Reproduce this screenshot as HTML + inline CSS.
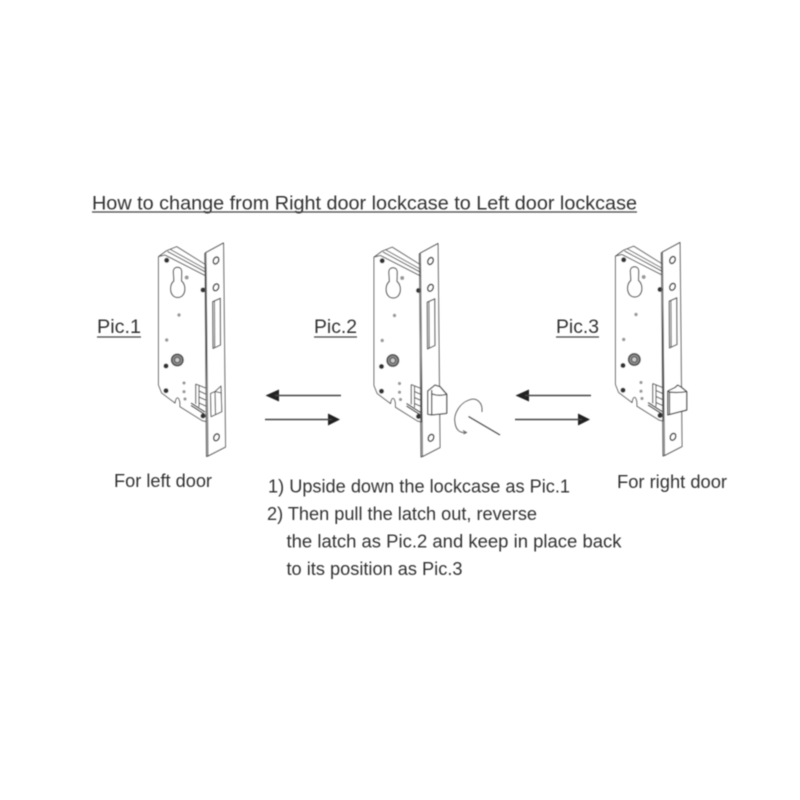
<!DOCTYPE html>
<html>
<head>
<meta charset="utf-8">
<style>
html,body{margin:0;padding:0;background:#fff;}
svg{display:block;}
text{font-family:"Liberation Sans",sans-serif;fill:#333;}
</style>
</head>
<body>
<svg width="800" height="800" viewBox="0 0 800 800" xmlns="http://www.w3.org/2000/svg">
<defs>
<filter id="b" x="-5%" y="-5%" width="110%" height="110%"><feGaussianBlur stdDeviation="0.5"/></filter>
<g id="body" fill="none" stroke="#555" stroke-width="1" stroke-linejoin="round">
  <path fill="#fff" d="M158.5 256.7 L166.7 250.7 L176.7 246.7 L206 265 L206 421.5 L202 420.5 L180 406.7 L180 403 C179 396 176 396 175 403 L161.7 393 L158.5 385 Z"/>
  <path d="M165 255 L205 275.5 M167.5 251.5 L205.5 272 M170.5 249.5 L205.5 269 M158.5 256.7 L165 255"/>
  <path d="M173.3 271 C173.5 266 181.5 266 181.7 271 L181.5 281 C187 285 186 297.5 177.7 297.5 C169.5 297.5 168.5 285 173.8 281 Z" stroke-width="1.2"/>
  <circle cx="177.3" cy="360" r="5.8" fill="#888" stroke="#444" stroke-width="1.4"/>
  <circle cx="177.3" cy="360" r="2.6" fill="#ccc" stroke="#555"/>
  <g fill="#333" stroke="none">
    <circle cx="166.7" cy="260.3" r="2.5"/>
    <circle cx="203" cy="290" r="2.5"/>
    <circle cx="166" cy="366" r="2.5"/>
    <circle cx="166" cy="390.7" r="2.5"/>
    <circle cx="203" cy="416" r="2.5"/>
  </g>
  <g fill="#999" stroke="none">
    <circle cx="179" cy="315" r="1.7"/>
    <circle cx="166.7" cy="340" r="1.7"/>
    <circle cx="186.7" cy="277.5" r="2"/>
    <circle cx="184" cy="383" r="1.6"/>
    <circle cx="184" cy="391.7" r="1.6"/>
    <circle cx="185" cy="399" r="1.6"/>
  </g>
  <path d="M195.7 384 L205.5 388 M195.7 384 L195.7 404 M199 385.5 L199 407 M199 391 L205.5 394 M199 397 L205.5 400 M199 403 L205.5 406" stroke-width="1.1"/>
  <path d="M191 403 L205 412 M191 405.5 L205 414.5" stroke="#333" stroke-width="1.3"/>
</g>
<g id="plate" fill="none" stroke="#555" stroke-width="1" stroke-linejoin="round">
  <path fill="#fff" d="M206 252.5 L223.5 243 L225.5 447 L208 456 Z"/>
  <path d="M206 252.5 L204.8 253.5 L206.5 456.5 L208 456"/>
  <path d="M212.7 301.7 L220.3 298.3 L220.5 345 L213 348.5 Z" stroke-width="1.2"/>
  <path d="M214.5 301 L214.7 347.5"/>
  <g fill="#fff" stroke="#444" stroke-width="1.5">
    <ellipse cx="216" cy="260.5" rx="2.6" ry="3.6" transform="rotate(25 216 260.5)"/>
    <ellipse cx="216" cy="287.3" rx="2.6" ry="3.6" transform="rotate(25 216 287.3)"/>
    <ellipse cx="216.5" cy="437.3" rx="2.6" ry="3.6" transform="rotate(25 216.5 437.3)"/>
  </g>
</g>
</defs>

<g filter="url(#b)">
  <!-- Pic 1 -->
  <use href="#body"/>
  <use href="#plate"/>
  <g fill="#fff" stroke="#555" stroke-width="1.1" stroke-linejoin="round">
    <path d="M210.5 393.5 L215 391.5 L221 386 L221.8 411.7 L211 416.7 Z"/>
    <path d="M215 391.5 L215.5 414.5 M215 391.5 L221.3 393" fill="none"/>
  </g>

  <!-- Pic 2 -->
  <g transform="translate(215.5 0.5)">
    <use href="#body"/>
    <g transform="translate(-1 0)"><use href="#plate"/></g>
  </g>
  <g fill="#fff" stroke="#444" stroke-width="1.2" stroke-linejoin="round">
    <path d="M427.7 391 L435 385 L440 386.7 L446.7 394.3 L446.7 413.3 L431.7 415 L427.7 414.3 Z"/>
    <path d="M431.7 390 L431.7 415 M431.7 393.8 C437 396 442 395.5 446.7 394.3" fill="none"/>
  </g>

  <!-- rotate indicator -->
  <path d="M482 412 C483 402 476 397 469 400 C460 403 453 414 455 423 C456 430 460 433 465 432.5" fill="none" stroke="#555" stroke-width="0.9"/>
  <path d="M463 430.5 L466.5 432.5 L463.5 434" fill="none" stroke="#555" stroke-width="0.9"/>
  <path d="M468.5 416.5 L500 435" fill="none" stroke="#444" stroke-width="1.1"/>

  <!-- Pic 3 -->
  <g transform="translate(457 -0.5)">
    <use href="#body"/>
    <g transform="translate(-0.5 0)"><use href="#plate"/></g>
  </g>
  <g fill="#fff" stroke="#444" stroke-width="1.2" stroke-linejoin="round">
    <path d="M667.7 391 L675 387.5 L677.7 385 L681 387 L686.7 391.7 L686.7 410 L667.7 415 Z"/>
    <path d="M667.7 391 L669.5 392 C675 393 681 392.5 686.7 391.7" fill="none"/>
    <path d="M669.5 392 L669.5 414.5" fill="none"/>
  </g>

  <!-- Arrows -->
  <g fill="#222" stroke="none">
    <path d="M265.5 395.5 L279 389.5 L279 401.5 Z"/>
    <path d="M340 419.5 L328 413.5 L328 425.5 Z"/>
    <path d="M515.5 395.5 L529 389.5 L529 401.5 Z"/>
    <path d="M590 419.5 L578 413.5 L578 425.5 Z"/>
  </g>
  <g stroke="#444" stroke-width="1.5" fill="none">
    <path d="M275 395.5 H341"/>
    <path d="M265 419.5 H332"/>
    <path d="M525 395.5 H591"/>
    <path d="M515 419.5 H582"/>
  </g>

  <!-- Text -->
  <text x="92" y="209.5" font-size="19.8" textLength="545" lengthAdjust="spacingAndGlyphs">How to change from Right door lockcase to Left door lockcase</text>
  <path d="M92 212 H637" stroke="#444" stroke-width="1.3"/>

  <text x="97" y="333" font-size="19.6" textLength="44" lengthAdjust="spacingAndGlyphs">Pic.1</text>
  <path d="M97 337 H141" stroke="#444" stroke-width="1.2"/>
  <text x="314" y="333" font-size="19.6" textLength="43" lengthAdjust="spacingAndGlyphs">Pic.2</text>
  <path d="M314 337 H357" stroke="#444" stroke-width="1.2"/>
  <text x="556" y="333" font-size="19.6" textLength="43" lengthAdjust="spacingAndGlyphs">Pic.3</text>
  <path d="M556 337 H599" stroke="#444" stroke-width="1.2"/>

  <text x="114" y="487" font-size="18.2" textLength="98" lengthAdjust="spacingAndGlyphs">For left door</text>
  <text x="617" y="488" font-size="18.3" textLength="110" lengthAdjust="spacingAndGlyphs">For right door</text>

  <text x="268" y="492.5" font-size="18.2" textLength="302" lengthAdjust="spacingAndGlyphs">1) Upside down the lockcase as Pic.1</text>
  <text x="267" y="520" font-size="18.2" textLength="270" lengthAdjust="spacingAndGlyphs">2) Then pull the latch out, reverse</text>
  <text x="286.5" y="547.5" font-size="18.2" textLength="335" lengthAdjust="spacingAndGlyphs">the latch as Pic.2 and keep in place back</text>
  <text x="286.5" y="575" font-size="18.2" textLength="176" lengthAdjust="spacingAndGlyphs">to its position as Pic.3</text>
</g>
</svg>
</body>
</html>
